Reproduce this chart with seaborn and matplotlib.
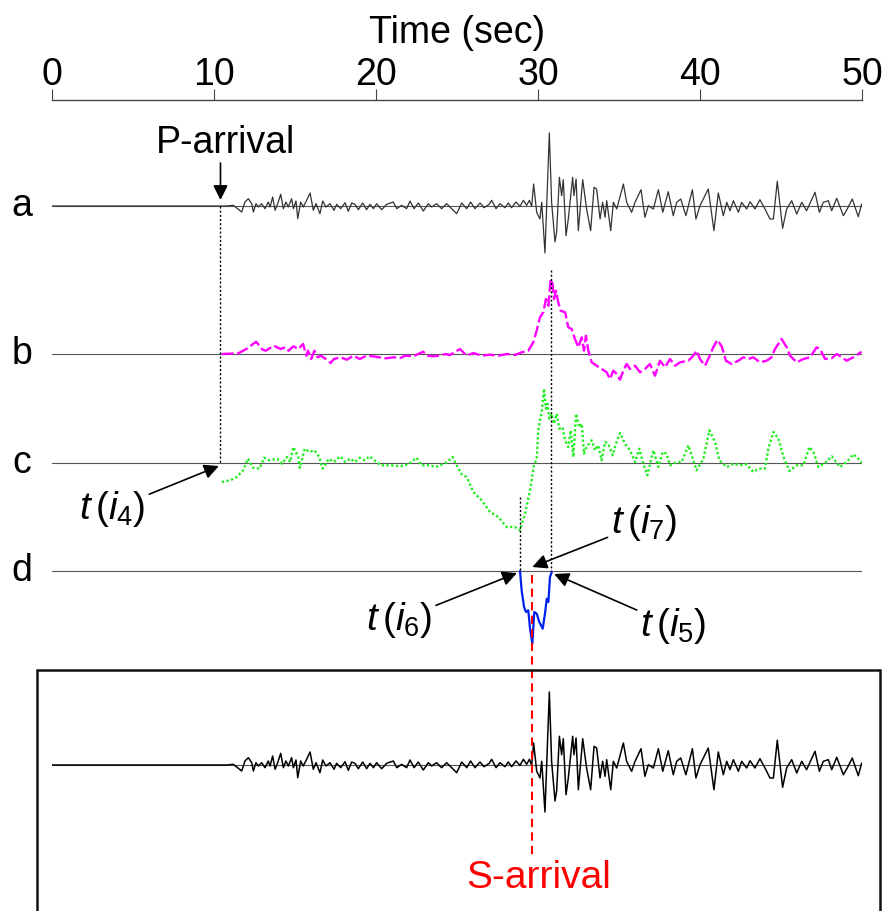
import numpy as np
import pandas as pd
import matplotlib
matplotlib.use("Agg")
import matplotlib.pyplot as plt
import matplotlib.patches as mpatches
import seaborn as sns

# ---- data (time in sec, amplitude in arbitrary units) ----
# trace a (also used for the boxed record at the bottom)
a_time = [0.0, 10.4, 10.8, 11.19, 11.71, 11.91, 12.12, 12.33, 12.43, 12.59, 12.74, 12.94,
          13.15, 13.35, 13.46, 13.62, 13.77, 13.93, 14.12, 14.28, 14.44, 14.59, 14.79,
          14.90, 15.06, 15.17, 15.35, 15.51, 15.72, 15.93, 16.13, 16.30, 16.54, 16.71,
          16.91, 17.16, 17.41, 17.57, 17.82, 18.09, 18.29, 18.50, 18.70, 18.91, 19.18,
          19.42, 19.63, 19.84, 20.04, 20.35, 20.66, 21.07, 21.28, 21.58, 21.89, 22.10,
          22.35, 22.61, 22.92, 23.23, 23.44, 23.74, 24.05, 24.36, 24.67, 24.98, 25.29,
          25.60, 25.84, 26.11, 26.42, 26.67, 26.99, 27.14, 27.41, 27.65, 27.96, 28.17,
          28.37, 28.64, 28.89, 29.10, 29.30, 29.47, 29.61, 29.73, 29.92, 30.12, 30.23,
          30.43, 30.58, 30.70, 30.84, 31.05, 31.15, 31.32, 31.46, 31.56, 31.73, 31.87,
          32.14, 32.22, 32.35, 32.49, 32.76, 33.00, 33.25, 33.46, 33.62, 33.83, 33.99,
          34.14, 34.24, 34.49, 34.65, 34.86, 35.27, 35.47, 35.78, 35.99, 36.36, 36.60,
          36.81, 37.12, 37.43, 37.70, 38.04, 38.35, 38.56, 38.81, 39.13, 39.53, 39.75,
          40.00, 40.51, 40.86, 41.13, 41.44, 41.65, 41.85, 42.06, 42.37, 42.57, 42.88,
          43.09, 43.39, 43.70, 44.01, 44.32, 44.53, 44.77, 45.10, 45.35, 45.66, 45.97,
          46.28, 46.58, 47.10, 47.37, 47.61, 47.92, 48.13, 48.44, 48.85, 49.09, 49.40,
          49.77, 49.98]
a_amp = [0.0, 0.0, 0.0, 0.7, -6.0, 4.0, 7.3, 2.3, -6.0, 2.3, -1.0, 2.3,
         -2.7, 4.0, -1.0, 9.0, -4.3, 2.3, 11.7, -2.7, 4.0, -1.0, 7.3,
         -2.7, 5.0, -12.7, 4.0, -1.0, 5.7, 13.0, -4.3, 2.3, -7.7, 5.0,
         -1.0, 2.3, -4.3, 1.7, -2.7, 3.3, -5.3, 3.0, 1.7, -3.7, 3.0,
         -3.7, 1.7, -2.7, 2.3, -3.7, 1.7, 4.0, -2.7, 0.7, -2.7, 5.0,
         -2.7, 3.0, -5.0, 2.3, -1.0, 2.3, -2.7, 2.3, -2.7, -7.7, 3.0,
         -2.7, 4.0, -2.7, 3.0, -1.7, 1.7, 5.7, -2.7, 2.3, -1.7, 3.0,
         -1.7, 4.0, -0.3, 5.7, 0.7, 5.7, -0.3, 22.0, -6.3, -13.0, 3.7,
         -47.0, 18.7, 73.0, 3.7, -36.0, -26.0, 28.7, 10.3, 26.3, -29.7, -13.0,
         28.7, 10.3, 27.0, -24.7, 26.3, -3.0, -24.7, 18.7, 17.0, -13.0, 3.7,
         -11.3, 5.3, -24.7, 3.7, -3.0, 22.0, 3.7, -6.3, 3.7, 16.3, -11.3,
         0.3, -3.0, 16.3, -6.3, 14.3, -9.7, 3.7, 7.0, -9.7, 16.3, -13.0,
         0.3, 17.0, -24.7, 13.0, -9.7, 3.7, -4.7, 5.3, -6.3, 3.7, -3.0,
         4.3, -3.0, 6.3, -3.0, -13.0, -13.0, 24.7, -22.3, -3.0, 5.3, -8.0,
         3.7, -4.7, 13.7, -6.3, 3.7, 5.3, -4.7, 7.7, -9.7, -3.0, 7.0,
         -10.7, 2.0]

# trace b
b_time = [10.48, 11.5, 12.0, 12.6, 13.0, 13.2, 13.7, 14.1, 14.4, 14.6, 14.9, 15.2, 15.5,
          15.7, 15.8, 16.0, 16.2, 16.4, 16.6, 16.9, 17.2, 17.4, 17.8, 18.2, 18.6, 19.0,
          19.4, 19.8, 20.2, 20.6, 21.1, 21.5, 21.8, 22.3, 22.7, 22.9, 23.2, 23.5, 23.9,
          24.3, 24.57, 25.18, 25.60, 26.01, 26.52, 27.04, 27.55, 28.07, 28.58, 28.99,
          29.40, 29.71, 29.92, 30.12, 30.33, 30.49, 30.64, 30.78, 30.90, 30.99, 31.11,
          31.25, 31.40, 31.67, 31.87, 32.08, 32.28, 32.49, 32.70, 32.84, 32.96, 33.11,
          33.31, 33.62, 33.93, 34.24, 34.44, 34.65, 34.86, 35.06, 35.27, 35.47, 35.68,
          35.99, 36.30, 36.60, 36.91, 37.22, 37.53, 37.84, 38.15, 38.46, 38.77, 39.28,
          39.59, 39.79, 40.00, 40.31, 40.51, 40.82, 41.07, 41.34, 41.60, 41.95, 42.37,
          42.67, 42.98, 43.29, 43.70, 44.12, 44.42, 44.63, 45.04, 45.35, 45.56, 45.97,
          46.38, 46.79, 47.20, 47.41, 47.72, 48.13, 48.44, 48.75, 49.05, 49.47, 49.98]
b_amp = [0.0, 0.7, 5.0, 12.3, 4.3, 3.3, 8.3, 5.0, 6.7, 3.3, 7.7, 5.0, 10.0,
         -1.7, 3.3, -5.0, 3.3, -3.3, -1.7, -5.0, -9.0, -5.0, -3.3, -5.7, -1.7, -5.0,
         -1.7, -2.3, -3.3, -4.3, -3.3, -4.0, -1.7, -2.3, 0.7, 2.3, -1.7, -2.3, -1.7,
         0.0, -1.0, 5.0, -1.7, 1.0, -1.7, -0.7, -1.7, 0.0, -1.0, 1.7,
         3.3, 11.7, 23.3, 36.7, 41.7, 55.0, 48.3, 75.0, 70.0, 55.0, 63.3,
         51.7, 43.3, 41.7, 26.7, 25.0, 15.0, 6.7, 16.7, 3.3, 18.3, 3.3,
         -8.3, -11.7, -15.0, -18.3, -25.0, -16.7, -20.0, -25.7, -16.7, -10.0, -15.0,
         -11.7, -18.3, -15.0, -10.0, -21.7, -6.7, -13.3, -5.0, -11.7, -8.3, -6.7,
         -1.7, 3.3, -5.0, -11.7, -5.0, 6.7, 14.0, 7.7, -6.7, -10.0, -6.7,
         -3.3, -5.0, -3.3, -8.3, -6.7, -3.3, 5.0, 15.0, 6.7, -1.7, -8.3,
         -5.0, -3.3, 6.7, 5.0, -5.0, -4.3, 0.0, -3.3, -6.7, -3.3, 2.3]

# trace c
c_time = [10.48, 11.0, 11.4, 11.8, 12.1, 12.4, 12.8, 13.1, 13.4, 13.9, 14.2, 14.5, 14.7,
          14.9, 15.2, 15.3, 15.6, 15.9, 16.2, 16.5, 16.7, 17.1, 17.4, 17.8, 18.1, 18.4,
          18.7, 19.0, 19.3, 19.6, 19.9, 20.3, 20.9, 21.5, 22.0, 22.5, 22.8, 23.3, 23.7,
          24.2, 24.4, 24.73, 24.98, 25.29, 25.60, 26.01, 26.52, 27.04, 27.55, 28.07,
          28.58, 28.89, 29.20, 29.51, 29.75, 29.92, 30.02, 30.12, 30.23, 30.37, 30.49,
          30.58, 30.70, 30.84, 30.99, 31.15, 31.32, 31.52, 31.67, 31.87, 32.02, 32.18,
          32.35, 32.55, 32.70, 32.84, 33.00, 33.31, 33.52, 33.72, 33.93, 34.14, 34.34,
          34.61, 34.81, 35.06, 35.37, 35.68, 35.99, 36.25, 36.50, 36.75, 37.12, 37.43,
          37.70, 37.94, 38.15, 38.56, 38.87, 39.28, 39.55, 39.79, 40.21, 40.58, 40.93,
          41.19, 41.65, 42.06, 42.47, 42.88, 43.29, 43.60, 44.01, 44.22, 44.53, 44.84,
          45.15, 45.52, 45.97, 46.38, 46.75, 47.00, 47.31, 47.72, 48.13, 48.64, 49.05,
          49.47, 49.88, 50.0]
c_amp = [-19.0, -17.3, -14.0, -7.3, 4.3, -4.7, -5.7, 5.3, 2.7, 4.3, -0.7, 6.0, 1.0,
         16.0, 6.0, -4.7, 14.3, 11.0, 12.7, 6.0, -5.7, 4.3, 1.0, 6.7, 1.0, 4.3,
         1.0, 5.3, 2.7, 6.7, 2.7, -2.3, -2.3, -3.3, -1.3, 5.3, -2.3, -2.3, -4.0,
         -0.7, 1.0, 6.0, -2.3, -11.3, -14.0, -29.0, -37.3, -49.0, -54.0, -64.0,
         -64.0, -67.3, -50.7, -27.3, -2.3, 4.3, 32.7, 42.7, 51.0, 74.3, 54.3,
         59.3, 44.3, 49.3, 39.3, 49.3, 34.3, 35.7, 22.7, 16.0, 32.7, 6.0,
         49.3, 35.7, 39.3, 9.3, 16.0, 22.7, 12.7, 17.7, 2.7, 21.0, 19.3,
         7.7, 19.3, 30.0, 19.3, 12.7, 1.0, 14.3, -0.7, -12.3, 12.7, -4.0,
         11.0, 9.3, -2.3, 1.0, 1.0, 17.7, 4.3, -7.3, 4.3, 32.7, 21.0,
         2.7, -4.0, -0.7, -2.3, -1.3, -9.0, -5.7, -5.7, 14.3, 31.0, 24.3,
         6.0, -8.0, -2.3, -2.3, 16.0, 11.0, -4.0, 0.0, 6.7, -4.0, 1.0,
         8.7, 2.7, 0.0]

# trace d
d_time = [28.89, 28.99, 29.14, 29.26, 29.40, 29.51, 29.65, 29.77, 29.92, 30.08, 30.29,
          30.43, 30.54, 30.64, 30.74, 30.85]
d_amp = [0.0, -19.3, -36.0, -41.0, -39.3, -57.7, -72.7, -41.0, -42.7, -51.0, -57.7,
         -42.7, -27.7, -31.0, -6.0, -1.0]

row_labels = ["a", "b", "c", "d"]
time_ticks = [0, 10, 20, 30, 40, 50]
t_p = 10.4      # P-arrival
t_i6 = 28.9
t_i5 = 30.8
t_s = 29.65     # S-arrival

# ---- layout ----
sns.set_style("white")
plt.rcParams["font.family"] = ["Liberation Sans", "DejaVu Sans"]
plt.rcParams["text.color"] = "black"
plt.rcParams["xtick.color"] = "black"
plt.rcParams["axes.labelcolor"] = "black"
plt.rcParams["mathtext.fontset"] = "custom"
plt.rcParams["mathtext.rm"] = "Liberation Sans"
plt.rcParams["mathtext.it"] = "Liberation Sans:italic"

W, H = 891, 911
fig = plt.figure(figsize=(W / 100, H / 100), dpi=100)
ax = fig.add_axes([52 / W, 0, 810 / W, (H - 100) / H])
ax.set_xlim(0, 50)
ax.set_ylim(-(H - 100), 0)

off = {"a": -106, "b": -254, "c": -363, "d": -471, "box": -665}

df_a = pd.DataFrame({"t": a_time, "v": np.array(a_amp) + off["a"]})
df_box = pd.DataFrame({"t": a_time, "v": np.array(a_amp) + off["box"]})
df_b = pd.DataFrame({"t": b_time, "v": np.array(b_amp) + off["b"]})
df_c = pd.DataFrame({"t": c_time, "v": np.array(c_amp) + off["c"]})
df_d = pd.DataFrame({"t": d_time, "v": np.array(d_amp) + off["d"]})

# baselines
for k in ["a", "b", "c", "d", "box"]:
    ax.plot([0, 50], [off[k], off[k]], color="#555555", lw=0.8, zorder=1)

sns.lineplot(data=df_a, x="t", y="v", ax=ax, color="#333333", lw=0.9, estimator=None, sort=False)
sns.lineplot(data=df_box, x="t", y="v", ax=ax, color="black", lw=1.1, estimator=None, sort=False)
sns.lineplot(data=df_b, x="t", y="v", ax=ax, color="#ff00ff", lw=1.7, estimator=None, sort=False,
             linestyle=(0, (5, 1.5)))
sns.lineplot(data=df_c, x="t", y="v", ax=ax, color="#22ee22", lw=1.7, estimator=None, sort=False,
             linestyle=(0, (1, 1)))
sns.lineplot(data=df_d, x="t", y="v", ax=ax, color="#0022ee", lw=1.6, estimator=None, sort=False)

# vertical guide lines
ax.plot([t_p, t_p], [off["a"], off["c"]], color="black", lw=1, ls=(0, (1.5, 1.5)))
ax.plot([t_i5, t_i5], [off["b"] + 84, off["d"]], color="black", lw=1, ls=(0, (1.5, 1.5)))
ax.plot([t_i6, t_i6], [off["c"] - 34, off["d"]], color="black", lw=1, ls=(0, (1.5, 1.5)))
ax.plot([t_s, t_s], [off["d"] - 4, -755], color="red", lw=1.5, ls=(0, (4, 2.5)))

# top time axis
sns.despine(ax=ax, top=False, left=True, bottom=True, right=True)
ax.spines["top"].set_color("#444444")
ax.spines["top"].set_linewidth(1)
ax.xaxis.tick_top()
ax.xaxis.set_label_position("top")
ax.set_xticks(time_ticks)
ax.set_yticks([])
ax.tick_params(axis="x", direction="out", length=8, width=0.8, color="#444444",
               labelsize=27, pad=-3)
ax.set_xlabel("Time (sec)", fontsize=27, labelpad=10)
ax.set_ylabel("")

# row letters
for lab in row_labels:
    ax.text(-1.85, off[lab], lab, fontsize=27, ha="center", va="center", clip_on=False)

# annotations
arrow = dict(arrowstyle="-|>", color="black", lw=1.2, mutation_scale=22, shrinkA=0, shrinkB=0)
ax.text(t_p + 0.3, off["a"] + 63, "P-arrival", fontsize=27, ha="center", va="center")
ax.annotate("", xy=(t_p, off["a"] + 6), xytext=(t_p, off["a"] + 43), arrowprops=arrow)
ax.annotate(r"$t\,(i_4)$", xy=(t_p - 0.1, off["c"] - 3), xytext=(5.8, off["c"] - 46),
            fontsize=28, ha="right", va="center", arrowprops=arrow)
ax.annotate(r"$t\,(i_7)$", xy=(t_s, off["d"] + 4), xytext=(34.5, off["d"] + 48),
            fontsize=28, ha="left", va="center", arrowprops=arrow)
ax.annotate(r"$t\,(i_6)$", xy=(t_i6 - 0.2, off["d"] - 2), xytext=(23.5, off["d"] - 49),
            fontsize=28, ha="right", va="center", arrowprops=arrow)
ax.annotate(r"$t\,(i_5)$", xy=(t_i5 + 0.2, off["d"] - 3), xytext=(36.3, off["d"] - 55),
            fontsize=28, ha="left", va="center", arrowprops=arrow)
ax.text(t_s + 0.4, -778, "S-arrival", color="red", fontsize=28, ha="center", va="center")

# frame round the bottom record
box = mpatches.Rectangle((37 / W, -0.05), (880 - 37) / W, (H - 670) / H + 0.05,
                         transform=fig.transFigure, fill=False, lw=1.8, edgecolor="#111111")
fig.patches.append(box)

fig.savefig("out.png", dpi=100)
